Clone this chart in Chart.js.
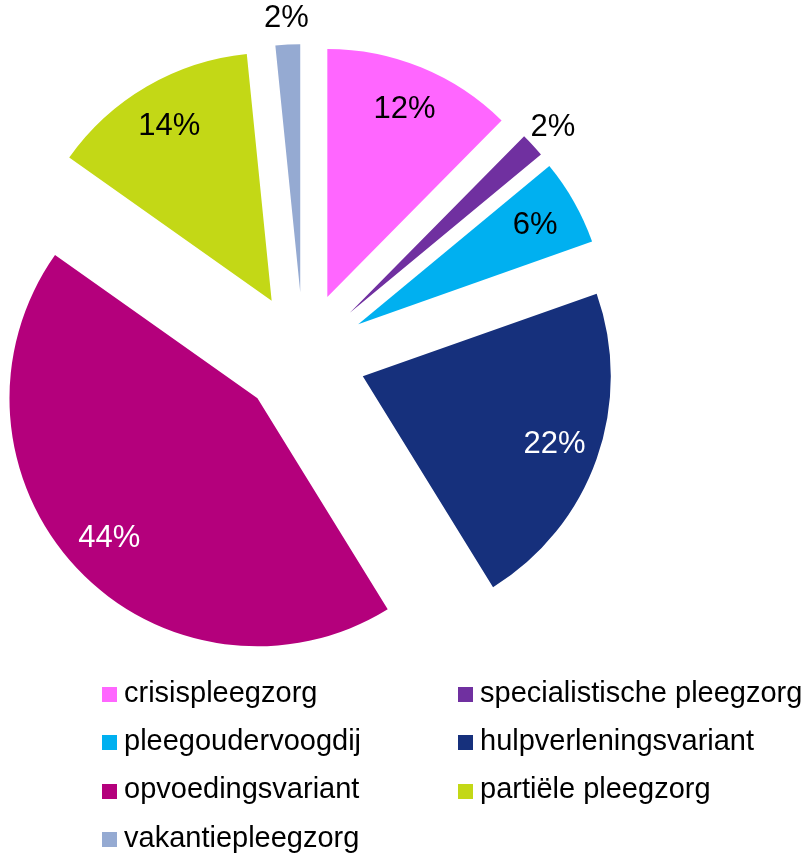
<!DOCTYPE html>
<html>
<head>
<meta charset="utf-8">
<script src="https://cdn.jsdelivr.net/npm/chart.js@4/dist/chart.umd.min.js"></script>
<style>
  html, body { margin: 0; padding: 0; background: #fff; }
  #wrap { position: relative; width: 808px; height: 857px; overflow: hidden; }
  #wrap canvas { position: absolute; left: 0; top: 0; }
  .item { position: absolute; height: 29px; white-space: nowrap;
          font-family: "Liberation Sans", Arial, sans-serif; font-size: 29px; line-height: 29px; color: #000; }
  .sw { position: absolute; width: 15px; height: 15px; }
  .tx { position: absolute; top: 0; }
</style>
</head>
<body>
<div id="wrap">
  <canvas id="c" width="808" height="857"></canvas>
  <div id="legend"></div>
</div>
<script>
// ---- data ----
const categories = ['crisispleegzorg', 'specialistische pleegzorg', 'pleegoudervoogdij',
                    'hulpverleningsvariant', 'opvoedingsvariant', 'partiële pleegzorg', 'vakantiepleegzorg'];
const values = [12.4, 1.6, 5.6, 21.6, 43.6, 13.6, 1.6];

// ---- styles ----
const colors = ['#FF66FF', '#7030A0', '#00B0F0', '#16307C', '#B4007C', '#C3D816', '#95AAD2'];
const labelColors = ['#000', '#000', '#000', '#fff', '#fff', '#000', '#000'];
const EXPLODE = 63;
const CX = 303.4, CY = 355.2, R = 248;
const W = 808, H = 857;

const explodePlugin = {
  id: 'explode',
  afterUpdate(chart) {
    const meta = chart.getDatasetMeta(0);
    meta.data.forEach(el => {
      const mid = (el.startAngle + el.endAngle) / 2;
      el.x += Math.cos(mid) * EXPLODE;
      el.y += Math.sin(mid) * EXPLODE;
    });
  }
};

const labelPlugin = {
  id: 'pctLabels',
  afterDatasetsDraw(chart) {
    const ctx = chart.ctx;
    const meta = chart.getDatasetMeta(0);
    ctx.save();
    ctx.font = '31px "Liberation Sans", Arial, sans-serif';
    ctx.textAlign = 'center';
    ctx.textBaseline = 'middle';
    meta.data.forEach((el, i) => {
      const mid = (el.startAngle + el.endAngle) / 2;
      const frac = values[i] < 3 ? 1.11 : 0.82;
      const x = el.x + Math.cos(mid) * el.outerRadius * frac;
      const y = el.y + Math.sin(mid) * el.outerRadius * frac;
      ctx.fillStyle = labelColors[i];
      ctx.fillText(Math.round(values[i]) + '%', x, y + 1);
    });
    ctx.restore();
  }
};

new Chart(document.getElementById('c'), {
  type: 'pie',
  data: {
    labels: categories,
    datasets: [{ data: values, backgroundColor: colors, borderWidth: 0, hoverOffset: 0 }]
  },
  options: {
    responsive: false,
    animation: false,
    events: [],
    layout: { padding: { left: CX - R, top: CY - R, right: W - (CX + R), bottom: H - (CY + R) } },
    plugins: { legend: { display: false }, tooltip: { enabled: false } }
  },
  plugins: [explodePlugin, labelPlugin]
});

// ---- HTML legend (2 columns, row-major) ----
const legend = document.getElementById('legend');
const colX = [102, 458];
const rowTop = [687, 735.3, 783.7, 832];
categories.forEach((name, i) => {
  const col = i % 2, row = Math.floor(i / 2);
  const item = document.createElement('div');
  item.className = 'item';
  item.style.left = colX[col] + 'px';
  item.style.top = rowTop[row] + 'px';
  const sw = document.createElement('div');
  sw.className = 'sw';
  sw.style.background = colors[i];
  sw.style.left = '0px';
  sw.style.top = '0px';
  const tx = document.createElement('span');
  tx.className = 'tx';
  tx.style.left = '22px';
  tx.style.top = '-9.5px';
  tx.textContent = name;
  item.appendChild(sw);
  item.appendChild(tx);
  legend.appendChild(item);
});
</script>
</body>
</html>
